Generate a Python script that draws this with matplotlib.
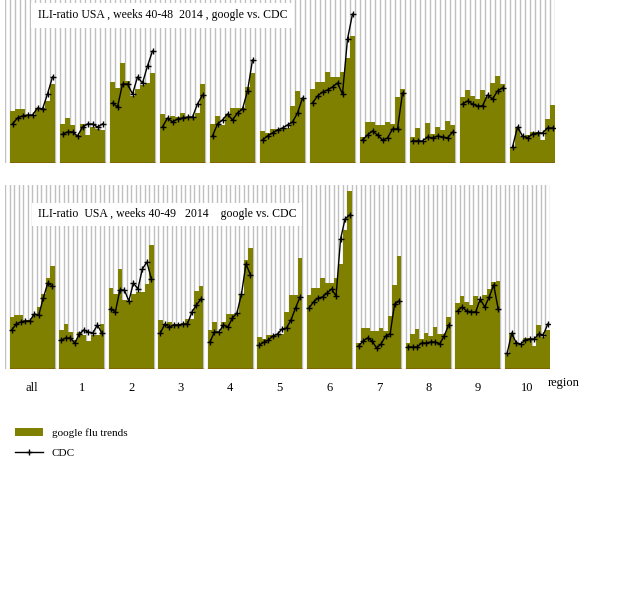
import matplotlib.pyplot as plt
from matplotlib.lines import Line2D
from matplotlib.patches import Patch

OLIVE = "#808000"
GRID = "#c0c0c0"

regions = ["all", "1", "2", "3", "4", "5", "6", "7", "8", "9", "10"]

# weeks 40-48 (top panel)
google_48 = [
    [52, 54, 54, 48, 48, 55, 55, 62, 79],
    [39, 45, 38, 28, 39, 28, 36, 34, 33],
    [81, 75, 100, 82, 67, 74, 78, 80, 90],
    [49, 45, 47, 46, 50, 46, 46, 50, 79],
    [39, 47, 38, 49, 55, 55, 55, 76, 90],
    [32, 30, 34, 34, 35, 35, 57, 72, 65],
    [74, 81, 81, 91, 86, 86, 91, 105, 127],
    [26, 41, 41, 38, 38, 41, 39, 66, 74],
    [26, 35, 21, 40, 29, 36, 33, 42, 38],
    [66, 73, 67, 64, 73, 66, 80, 87, 79],
    [16, 36, 26, 28, 31, 31, 23, 44, 58],
]
cdc_48 = [
    [39, 45, 47, 48, 48, 55, 54, 69, 86],
    [29, 31, 31, 27, 36, 39, 39, 36, 39],
    [60, 56, 79, 79, 69, 86, 80, 97, 112],
    [36, 45, 41, 44, 45, 46, 46, 59, 68],
    [27, 39, 43, 49, 43, 50, 54, 72, 103],
    [23, 27, 30, 33, 35, 38, 41, 50, 65],
    [60, 67, 71, 73, 76, 80, 69, 124, 149],
    [23, 28, 32, 28, 23, 25, 34, 34, 70],
    [22, 22, 22, 26, 25, 27, 26, 25, 31],
    [59, 62, 59, 57, 57, 68, 64, 72, 75],
    [16, 36, 27, 25, 29, 30, 30, 35, 35],
]

# weeks 40-49 (bottom panel)
google_49 = [
    [52, 54, 54, 49, 49, 55, 62, 75, 91, 103],
    [39, 45, 37, 29, 37, 34, 28, 34, 34, 45],
    [81, 75, 100, 69, 67, 75, 77, 77, 85, 124],
    [49, 45, 47, 45, 45, 46, 50, 50, 78, 83],
    [39, 47, 36, 47, 55, 55, 55, 74, 109, 121],
    [32, 30, 34, 34, 34, 35, 57, 74, 74, 111],
    [74, 81, 81, 91, 86, 86, 91, 105, 139, 178],
    [26, 41, 41, 38, 38, 41, 38, 53, 84, 113],
    [26, 35, 40, 30, 36, 33, 42, 35, 35, 52],
    [66, 73, 67, 64, 73, 67, 74, 80, 87, 88],
    [16, 36, 27, 25, 31, 31, 23, 44, 32, 39],
]
cdc_49 = [
    [39, 45, 47, 48, 48, 55, 54, 71, 86, 83],
    [29, 31, 31, 26, 35, 39, 37, 36, 44, 36],
    [60, 57, 79, 79, 68, 86, 80, 100, 107, 90],
    [36, 45, 42, 44, 44, 45, 45, 57, 64, 70],
    [27, 37, 37, 44, 42, 51, 56, 75, 105, 94],
    [24, 27, 29, 33, 35, 40, 41, 49, 61, 72],
    [61, 67, 71, 72, 76, 80, 73, 130, 150, 154],
    [23, 28, 31, 28, 21, 25, 33, 35, 65, 68],
    [22, 22, 22, 26, 26, 27, 27, 25, 33, 44],
    [58, 62, 58, 57, 57, 70, 62, 72, 84, 60],
    [16, 36, 26, 25, 29, 30, 30, 35, 34, 45],
]

W, H = 640, 600
fig = plt.figure(figsize=(6.4, 6.0), dpi=100)


def px_axes(x0, y0, x1, y1):
    return fig.add_axes([x0 / W, 1 - y1 / H, (x1 - x0) / W, (y1 - y0) / H])


def draw_panel(ax, google, cdc, ymax):
    n = len(google[0])
    slots = n + 1
    total = slots * len(google)
    for i in range(total + 1):
        ax.axvline(i, color=GRID, lw=1, zorder=0)
    for g, (gv, cv) in enumerate(zip(google, cdc)):
        start = g * slots + 1
        xs = [start + k for k in range(n)]
        ax.bar(xs, gv, width=1.0, align="edge", color=OLIVE, lw=0, zorder=2)
        ax.plot([x + 0.5 for x in xs[: len(cv)]], cv, color="black", lw=1,
                marker="+", ms=4, mew=1, zorder=3)
        ax.plot([start, start + n], [0.3, 0.3], color="#800000", lw=1, zorder=4)
    ax.set_xlim(0, total)
    ax.set_ylim(0, ymax)
    ax.axis("off")
    return slots, total


ax1 = px_axes(5, 0, 555, 163)
draw_panel(ax1, google_48, cdc_48, 163)
ax1.text(0.06, 0.905, "ILI-ratio USA , weeks 40-48  2014 , google vs. CDC",
         transform=ax1.transAxes, fontsize=8.5, family="Liberation Serif",
         va="center", ha="left",
         bbox=dict(facecolor="white", edgecolor="none", pad=5), zorder=5)

ax2 = px_axes(5, 185, 550, 369)
slots, total = draw_panel(ax2, google_49, cdc_49, 184)
ax2.text(0.06, 0.84, "ILI-ratio  USA , weeks 40-49   2014    google vs. CDC",
         transform=ax2.transAxes, fontsize=8.5, family="Liberation Serif",
         va="center", ha="left",
         bbox=dict(facecolor="white", edgecolor="none", pad=4), zorder=5)

for g, name in enumerate(regions):
    xc = g * slots + 1 + (slots - 1) / 2
    ax2.text(xc, -19, name, ha="center", va="center", fontsize=9,
             family="Liberation Serif", clip_on=False)
ax2.text(total - 0.5, -14, "region", ha="left", va="center", fontsize=9,
         family="Liberation Serif", clip_on=False)

handles = [Patch(facecolor=OLIVE, edgecolor="none"),
           Line2D([], [], color="black", lw=1, marker="+", ms=5)]
fig.legend(handles, ["google flu trends", "CDC"], loc="upper left",
           bbox_to_anchor=(5 / W, 1 - 418 / H), frameon=False,
           prop={"family": "Liberation Serif", "size": 8},
           handlelength=2.5, labelspacing=0.9)

fig.savefig("out.png", dpi=100, facecolor="white")
